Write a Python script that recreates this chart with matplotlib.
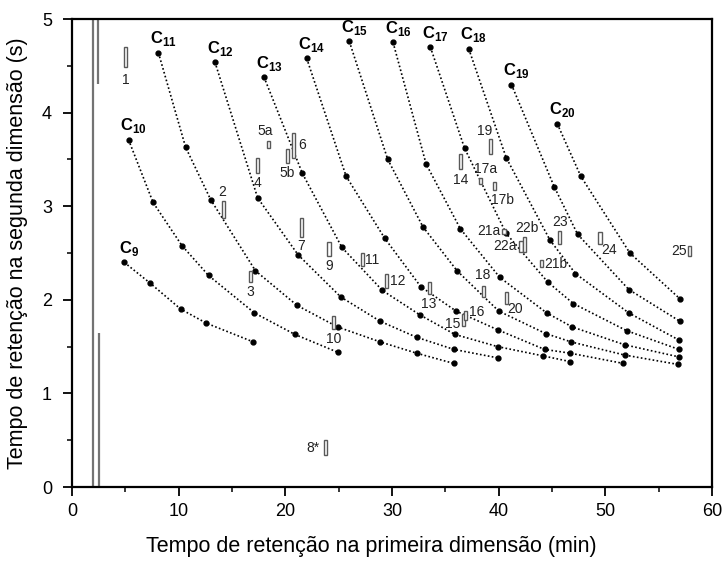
import numpy as np
import matplotlib
matplotlib.use("Agg")
import matplotlib.pyplot as plt
from matplotlib.ticker import MultipleLocator

plt.rcParams['font.family'] = ['Liberation Sans', 'DejaVu Sans']
plt.rcParams['mathtext.fontset'] = 'custom'
plt.rcParams['mathtext.rm'] = 'Liberation Sans'
plt.rcParams['mathtext.bf'] = 'Liberation Sans:bold'

# series C9..C20: first dimension (min) / second dimension (s)
c9_x = [4.9, 7.3, 10.2, 12.6, 17.0]
c9_y = [2.40, 2.18, 1.90, 1.75, 1.55]
c10_x = [5.3, 7.6, 10.3, 12.8, 17.1, 20.9, 24.9]
c10_y = [3.71, 3.04, 2.58, 2.26, 1.86, 1.63, 1.44]
c11_x = [8.1, 10.65, 13.0, 17.2, 21.1, 24.9, 28.9, 32.3, 35.8]
c11_y = [4.64, 3.63, 3.07, 2.31, 1.94, 1.71, 1.55, 1.43, 1.32]
c12_x = [13.4, 17.4, 21.2, 25.2, 28.9, 32.3, 35.8, 39.9]
c12_y = [4.54, 3.09, 2.48, 2.03, 1.77, 1.60, 1.47, 1.38]
c13_x = [18.0, 21.6, 25.3, 29.1, 32.6, 35.9, 39.9, 44.2, 46.7]
c13_y = [4.38, 3.35, 2.56, 2.10, 1.84, 1.63, 1.50, 1.40, 1.34]
c14_x = [22.0, 25.7, 29.3, 32.7, 36.0, 39.9, 44.3, 46.7, 51.7]
c14_y = [4.58, 3.32, 2.66, 2.14, 1.88, 1.68, 1.47, 1.43, 1.32]
c15_x = [26.0, 29.6, 32.9, 36.1, 40.0, 44.4, 46.8, 51.8, 56.8]
c15_y = [4.76, 3.50, 2.78, 2.31, 1.88, 1.64, 1.55, 1.41, 1.31]
c16_x = [30.1, 33.2, 36.4, 40.1, 44.5, 46.9, 51.8, 56.9]
c16_y = [4.75, 3.45, 2.76, 2.24, 1.86, 1.71, 1.52, 1.39]
c17_x = [33.6, 36.8, 40.7, 44.6, 47.0, 52.0, 56.9]
c17_y = [4.70, 3.62, 2.71, 2.19, 1.96, 1.67, 1.47]
c18_x = [37.2, 40.7, 44.8, 47.2, 52.2, 56.9]
c18_y = [4.68, 3.52, 2.64, 2.28, 1.86, 1.57]
c19_x = [41.2, 45.2, 47.4, 52.2, 57.0]
c19_y = [4.30, 3.21, 2.70, 2.11, 1.77]
c20_x = [45.5, 47.7, 52.3, 57.0]
c20_y = [3.88, 3.32, 2.50, 2.01]

series = {
    '9': (c9_x, c9_y), '10': (c10_x, c10_y), '11': (c11_x, c11_y),
    '12': (c12_x, c12_y), '13': (c13_x, c13_y), '14': (c14_x, c14_y),
    '15': (c15_x, c15_y), '16': (c16_x, c16_y), '17': (c17_x, c17_y),
    '18': (c18_x, c18_y), '19': (c19_x, c19_y), '20': (c20_x, c20_y),
}

# peaks (bar from lo to hi in 2nd dimension)
peak_names = ['1', '2', '3', '4', '5a', '5b', '6', '7', '8*', '9', '10', '11',
              '12', '13', '14', '15', '16', '17a', '17b', '18', '19', '20',
              '21a', '21b', '22a', '22b', '23', '24', '25']
peak_x = [5.0, 14.2, 16.75, 17.4, 18.4, 20.2, 20.8, 21.5, 23.8, 24.1, 24.5, 27.2,
          29.5, 33.55, 36.4, 36.7, 36.9, 38.3, 39.6, 38.6, 39.2, 40.7,
          40.5, 44.0, 42.1, 42.4, 45.7, 49.5, 57.9]
peak_lo = [4.49, 2.87, 2.19, 3.35, 3.62, 3.46, 3.52, 2.67, 0.34, 2.47, 1.69, 2.36,
           2.13, 2.06, 3.40, 1.72, 1.78, 3.24, 3.17, 2.03, 3.56, 1.96,
           2.70, 2.35, 2.51, 2.51, 2.60, 2.60, 2.47]
peak_hi = [4.70, 3.06, 2.31, 3.52, 3.70, 3.61, 3.78, 2.87, 0.50, 2.62, 1.83, 2.50,
           2.28, 2.19, 3.56, 1.85, 1.88, 3.30, 3.26, 2.15, 3.72, 2.08,
           2.76, 2.42, 2.63, 2.67, 2.74, 2.72, 2.58]

# solvent / early peaks along the left edge
solv_x = [1.93, 2.0, 2.4, 2.55]
solv_lo = [0.69, 0.0, 4.31, 0.0]
solv_hi = [5.0, 0.69, 5.0, 1.65]

# label placement: (dx px, dy px, anchor, ha)
label_off = {
    '1': (0, -13, 'lo', 'center'), '2': (-1, 9, 'hi', 'center'),
    '3': (0, -10, 'lo', 'center'), '4': (0, -10, 'lo', 'center'),
    '5a': (-3, 10, 'hi', 'center'), '5b': (0, -10, 'lo', 'center'),
    '6': (4, 0, 'mid', 'left'), '7': (0, -9, 'lo', 'center'),
    '8*': (-13, 0, 'mid', 'center'), '9': (0, -10, 'lo', 'center'),
    '10': (0, -10, 'lo', 'center'), '11': (3, 0, 'mid', 'left'),
    '12': (3, 0, 'mid', 'left'), '13': (-1, -10, 'lo', 'center'),
    '14': (0, -11, 'lo', 'center'), '15': (-11, 2, 'lo', 'center'),
    '16': (3, 4, 'mid', 'left'), '17a': (5, 9, 'hi', 'center'),
    '17b': (8, -10, 'lo', 'center'), '18': (-1, 11, 'hi', 'center'),
    '19': (-6, 8, 'hi', 'center'), '20': (9, -5, 'lo', 'center'),
    '21a': (-15, 0, 'mid', 'center'), '21b': (3, 0, 'mid', 'left'),
    '22a': (-16, 0, 'mid', 'center'), '22b': (3, 9, 'hi', 'center'),
    '23': (1, 9, 'hi', 'center'), '24': (9, -6, 'lo', 'center'),
    '25': (-11, 0, 'mid', 'center'),
}

fig = plt.figure(figsize=(7.26, 5.61), dpi=100)
ax = fig.add_axes([0.0992, 0.1319, 0.8815, 0.8342])

ax.vlines(solv_x, solv_lo, solv_hi, colors='0.45', lw=1.6)

for n, (xs, ys) in series.items():
    ax.plot(xs, ys, color='black', lw=1.2, ls=(0, (1, 1.4)),
            marker='o', ms=3.5, mfc='black', mec='black')
    ax.annotate(r'$\mathbf{C}_{\mathbf{%s}}$' % n, (xs[0], ys[0]),
                xytext=(5, 14), textcoords='offset pixels',
                ha='center', va='center', fontsize=12)

lo = np.array(peak_lo)
hi = np.array(peak_hi)
ax.bar(peak_x, hi - lo, bottom=lo, width=0.3, facecolor='white',
       edgecolor='0.35', lw=1.0, zorder=3)

for name, x, a, b in zip(peak_names, peak_x, peak_lo, peak_hi):
    dx, dy, anc, ha = label_off[name]
    y = {'lo': a, 'hi': b, 'mid': (a + b) / 2}[anc]
    ax.annotate(name, (x, y), xytext=(dx, dy), textcoords='offset pixels',
                ha=ha, va='center', fontsize=10, color='#222222')

ax.set_xlim(0, 60)
ax.set_ylim(0, 5)
ax.xaxis.set_major_locator(MultipleLocator(10))
ax.xaxis.set_minor_locator(MultipleLocator(5))
ax.yaxis.set_major_locator(MultipleLocator(1))
ax.yaxis.set_minor_locator(MultipleLocator(0.5))
ax.tick_params(which='major', direction='out', length=6.5, width=1.3,
               labelsize=13, pad=5)
ax.tick_params(axis='y', which='major', pad=8)
ax.tick_params(which='minor', direction='out', length=3.5, width=1.1)
for s in ax.spines.values():
    s.set_linewidth(1.6)

ax.set_xlabel('Tempo de retenção na primeira dimensão (min)', fontsize=15.5)
ax.set_ylabel('Tempo de retenção na segunda dimensão (s)', fontsize=15.5, labelpad=10)
ax.xaxis.set_label_coords(0.467, -0.105)

fig.savefig('out.png', dpi=100)
